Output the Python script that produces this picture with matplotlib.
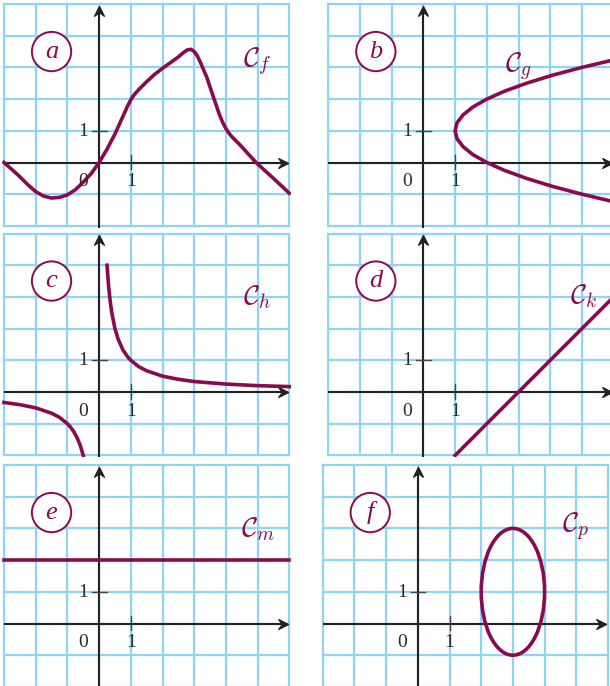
import numpy as np
import matplotlib
matplotlib.use('Agg')
import matplotlib.pyplot as plt
from matplotlib.path import Path
from matplotlib.patches import Circle, Ellipse

plt.rcParams['mathtext.fontset'] = 'cm'

# ---------------- data ----------------
# panel a : C_f
fa_x = [-3.0, -2.75, -2.5, -2.25, -2.0, -1.75, -1.5, -1.25, -1.0, -0.75, -0.5, -0.25, 0.0,
        0.25, 0.5, 0.75, 0.9, 1.0, 1.1, 1.25, 1.5, 1.75, 2.0, 2.25, 2.5, 2.65, 2.78, 2.9,
        3.0, 3.1, 3.2, 3.4, 3.6, 3.8, 3.9, 4.0, 4.1, 4.2, 4.3, 4.45, 4.95, 5.5, 6.0]
fa_y = [0.0, -0.22, -0.45, -0.7, -0.92, -1.06, -1.12, -1.1, -1.02, -0.86, -0.62, -0.35, 0.0,
        0.42, 0.9, 1.45, 1.78, 1.98, 2.13, 2.3, 2.55, 2.78, 2.97, 3.15, 3.33, 3.46, 3.55, 3.57,
        3.5, 3.36, 3.15, 2.68, 2.08, 1.5, 1.26, 1.07, 0.92, 0.8, 0.7, 0.55, 0.0, -0.5, -0.97]
# panel b : C_g
gb_x = [6.06, 5.0, 4.06, 3.25, 2.56, 2.0, 1.56, 1.25, 1.06, 1.0, 1.06, 1.25, 1.56, 2.0,
        2.56, 3.25, 4.06, 5.0, 6.06]
gb_y = [3.25, 3.0, 2.75, 2.5, 2.25, 2.0, 1.75, 1.5, 1.25, 1.0, 0.75, 0.5, 0.25, 0.0,
        -0.25, -0.5, -0.75, -1.0, -1.25]
# panel c : C_h (two branches)
hc_right_x = [0.25, 0.3, 0.35, 0.4, 0.5, 0.6, 0.75, 0.9, 1.0, 1.25, 1.5, 2.0, 2.5, 3.0, 4.0, 5.0, 6.0]
hc_right_y = [4.0, 3.33, 2.86, 2.5, 2.0, 1.67, 1.33, 1.11, 1.0, 0.8, 0.67, 0.5, 0.4, 0.33, 0.25, 0.2, 0.17]
hc_left_x = [-3.0, -2.5, -2.0, -1.5, -1.25, -1.0, -0.9, -0.8, -0.7, -0.6, -0.5]
hc_left_y = [-0.33, -0.4, -0.5, -0.67, -0.8, -1.0, -1.11, -1.25, -1.43, -1.67, -2.0]
# panel d : C_k
kd_x = [1.0, 6.0]
kd_y = [-2.0, 3.0]
# panel e : C_m
me_x = [-3.0, 6.0]
me_y = [2.0, 2.0]
# panel f : C_p (ellipse)
pf_center = (3.0, 1.0)
pf_width = 2.0
pf_height = 4.0

panel_letters = ['a', 'b', 'c', 'd', 'e', 'f']
curve_names = [r'$\mathcal{C}_f$', r'$\mathcal{C}_g$', r'$\mathcal{C}_h$',
               r'$\mathcal{C}_k$', r'$\mathcal{C}_m$', r'$\mathcal{C}_p$']
name_pos = [(4.55, 3.0), (2.58, 2.86), (4.55, 2.78), (4.63, 2.81), (4.48, 2.76), (4.56, 2.89)]
tick_labels = ['0', '1', '1']

# ---------------- style ----------------
W, H = 610, 686
U = 31.7
PURPLE = '#8A0A50'
GRID = '#8DD5F3'
AXIS = '#222222'
SERIF = 'Liberation Serif'

fig = plt.figure(figsize=(W / 100, H / 100), dpi=100)

arrow_right = Path([(0, 0), (-1, 0.5), (-0.62, 0), (-1, -0.5), (0, 0)],
                   [Path.MOVETO, Path.LINETO, Path.LINETO, Path.LINETO, Path.CLOSEPOLY])
arrow_up = Path([(0, 0), (-0.5, -1), (0, -0.62), (0.5, -1), (0, 0)],
                [Path.MOVETO, Path.LINETO, Path.LINETO, Path.LINETO, Path.CLOSEPOLY])


def make_panel(ox, oy, letter, name, npos):
    pad = 1.6
    left = max(ox - 3 * U - pad, 0)
    right = min(ox + 6 * U + pad, W)
    top = max(oy - 5 * U - pad, 0)
    bottom = min(oy + 2 * U + pad, H)
    ax = fig.add_axes([left / W, 1 - bottom / H, (right - left) / W, (bottom - top) / H])
    ax.set_xlim((left - ox) / U, (right - ox) / U)
    ax.set_ylim((oy - bottom) / U, (oy - top) / U)
    ax.axis('off')
    # grid
    for i in range(-3, 7):
        ax.plot([i, i], [-2, 5], color=GRID, lw=1.6, zorder=1, solid_capstyle='projecting')
    for j in range(-2, 6):
        ax.plot([-3, 6], [j, j], color=GRID, lw=1.6, zorder=1, solid_capstyle='projecting')
    # axes with arrows
    ax.plot([-3, 5.85], [0, 0], color=AXIS, lw=1.5, zorder=2, solid_capstyle='butt')
    ax.plot([5.95], [0], marker=arrow_right, ms=14, color=AXIS, zorder=2, clip_on=True)
    ax.plot([0, 0], [-2.1, 4.85], color=AXIS, lw=1.5, zorder=2, solid_capstyle='butt')
    ax.plot([0], [4.95], marker=arrow_up, ms=14, color=AXIS, zorder=2)
    # ticks
    ax.plot([1, 1], [-0.22, 0.24], color='#444444', lw=1.0, zorder=2)
    ax.plot([-0.23, 0.24], [1, 1], color='#444444', lw=1.0, zorder=2)
    ax.text(-0.5, -0.6, tick_labels[0], family=SERIF, fontsize=14, color='#2a2a2a',
            ha='center', va='center', zorder=5)
    ax.text(1.0, -0.6, tick_labels[1], family=SERIF, fontsize=14, color='#2a2a2a',
            ha='center', va='center', zorder=5)
    ax.text(-0.5, 0.98, tick_labels[2], family=SERIF, fontsize=14, color='#2a2a2a',
            ha='center', va='center', zorder=5)
    # badge
    ax.add_patch(Circle((-1.5, 3.5), 0.62, facecolor='white', edgecolor=PURPLE,
                        lw=1.4, zorder=4))
    ax.text(-1.5, 3.5, letter, family=SERIF, style='italic', fontsize=19, color=PURPLE,
            ha='center', va='center', zorder=5)
    ax.text(npos[0], npos[1], name, fontsize=20, color=PURPLE, ha='left',
            va='baseline', zorder=5)
    return ax


origins = [(99.1, 162.5), (423.4, 162.5), (99.1, 392.0),
           (423.4, 392.0), (99.1, 623.5), (417.8, 623.5)]
axs = [make_panel(o[0], o[1], l, n, p)
       for o, l, n, p in zip(origins, panel_letters, curve_names, name_pos)]

LW = 2.6
axs[0].plot(fa_x, fa_y, color=PURPLE, lw=LW, zorder=3, solid_joinstyle='round')
axs[1].plot(gb_x, gb_y, color=PURPLE, lw=LW, zorder=3, solid_joinstyle='round')
axs[2].plot(hc_right_x, hc_right_y, color=PURPLE, lw=LW, zorder=3, solid_joinstyle='round')
axs[2].plot(hc_left_x, hc_left_y, color=PURPLE, lw=LW, zorder=3, solid_joinstyle='round')
axs[3].plot(kd_x, kd_y, color=PURPLE, lw=LW, zorder=3)
axs[4].plot(me_x, me_y, color=PURPLE, lw=LW, zorder=3)
axs[5].add_patch(Ellipse(pf_center, pf_width, pf_height, facecolor='none',
                         edgecolor=PURPLE, lw=LW, zorder=3))

fig.savefig('out.png', dpi=100)
